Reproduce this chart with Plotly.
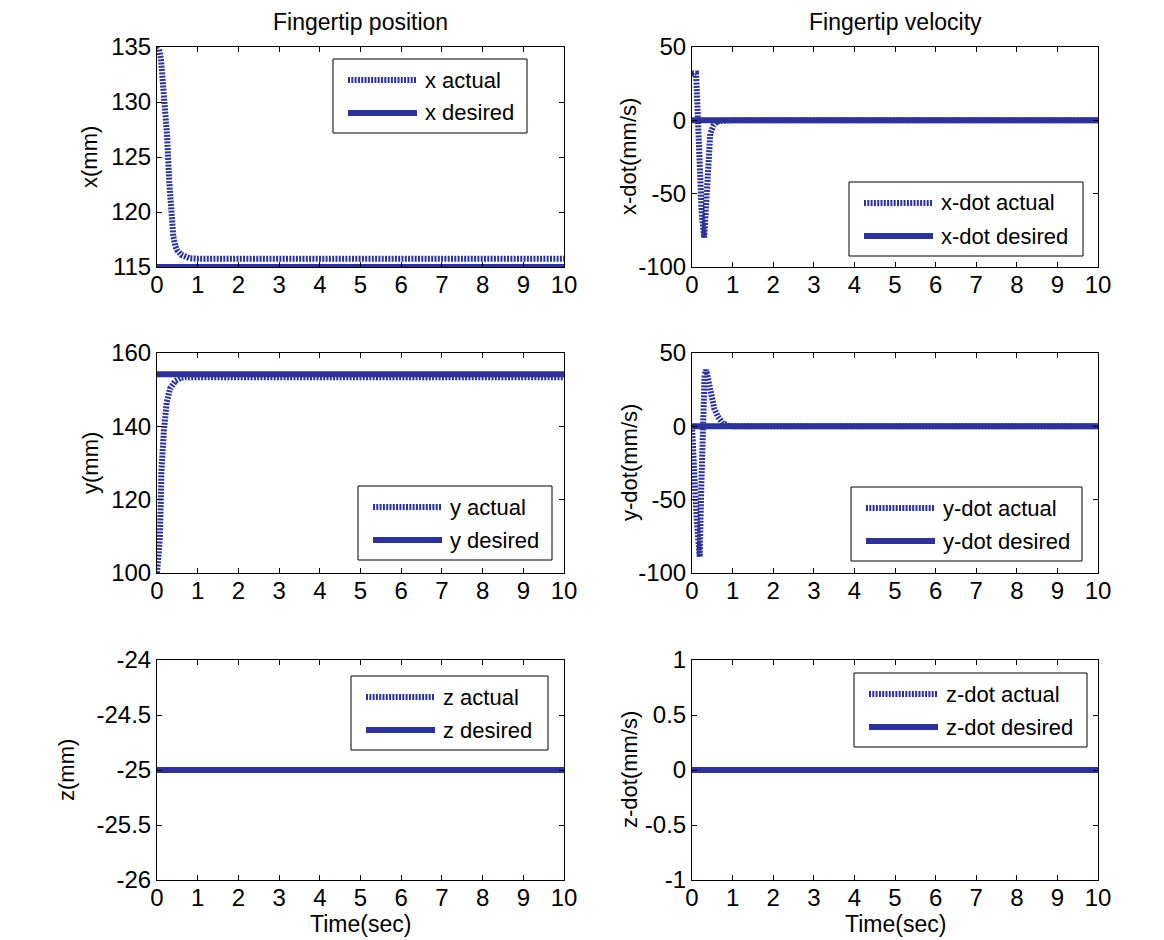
import plotly.graph_objects as go

# ---------------- data ----------------
t_x = [0, 0.05, 0.1, 0.15, 0.2, 0.25, 0.3, 0.35, 0.4, 0.45, 0.5, 0.6, 0.7, 0.8, 1.0, 10.0]
x_actual = [135.0, 134.8, 133.8, 131.7, 129.6, 126.8, 122.8, 119.6, 117.8, 116.9, 116.5, 116.1, 115.9, 115.8, 115.75, 115.75]
t_des = [0, 10]
x_desired = [115.0, 115.0]

t_xd = [0, 0.05, 0.1, 0.13, 0.17, 0.2, 0.24, 0.3, 0.35, 0.39, 0.45, 0.53, 0.61, 0.7, 0.8, 1.0, 10.0]
xdot_actual = [32, 32, 32, 12, -29, -48, -64, -80, -55, -30, -9, -3.5, -1, -0.4, 0, 0, 0]
xdot_desired = [0, 0]

t_y = [0, 0.03, 0.07, 0.09, 0.11, 0.17, 0.24, 0.32, 0.45, 0.58, 0.7, 1.0, 10.0]
y_actual = [100, 103, 109.5, 118, 128, 139, 146.6, 150.3, 152.4, 153.2, 153.4, 153.4, 153.4]
y_desired = [154.2, 154.2]

t_yd = [0, 0.05, 0.08, 0.12, 0.17, 0.19, 0.23, 0.27, 0.31, 0.35, 0.39, 0.45, 0.475, 0.55, 0.64, 0.76, 0.9, 1.0, 10.0]
ydot_actual = [0, -20, -45, -65, -85, -89, -40, 10, 35, 38.4, 33, 26, 20, 12, 6.6, 2, 0.4, 0, 0]
ydot_desired = [0, 0]

t_z = [0, 10]
z_actual = [-25, -25]
z_desired = [-25, -25]
zdot_actual = [0, 0]
zdot_desired = [0, 0]

x_ticks = [0, 1, 2, 3, 4, 5, 6, 7, 8, 9, 10]
x_ticklabels = ["0", "1", "2", "3", "4", "5", "6", "7", "8", "9", "10"]
yticks = {
    1: ([115, 120, 125, 130, 135], ["115", "120", "125", "130", "135"]),
    2: ([-100, -50, 0, 50], ["-100", "-50", "0", "50"]),
    3: ([100, 120, 140, 160], ["100", "120", "140", "160"]),
    4: ([-100, -50, 0, 50], ["-100", "-50", "0", "50"]),
    5: ([-26, -25.5, -25, -24.5, -24], ["-26", "-25.5", "-25", "-24.5", "-24"]),
    6: ([-1, -0.5, 0, 0.5, 1], ["-1", "-0.5", "0", "0.5", "1"]),
}
yranges = {1: [115, 135], 2: [-100, 50], 3: [100, 160], 4: [-100, 50], 5: [-26, -24], 6: [-1, 1]}
ytitles = {1: "x(mm)", 2: "x-dot(mm/s)", 3: "y(mm)", 4: "y-dot(mm/s)", 5: "z(mm)", 6: "z-dot(mm/s)"}
col_titles = ["Fingertip position", "Fingertip velocity"]
x_title = "Time(sec)"

panels = [
    (1, t_x, x_actual, x_desired, "x actual", "x desired"),
    (2, t_xd, xdot_actual, xdot_desired, "x-dot actual", "x-dot desired"),
    (3, t_y, y_actual, y_desired, "y actual", "y desired"),
    (4, t_yd, ydot_actual, ydot_desired, "y-dot actual", "y-dot desired"),
    (5, t_z, z_actual, z_desired, "z actual", "z desired"),
    (6, t_z, zdot_actual, zdot_desired, "z-dot actual", "z-dot desired"),
]

# ---------------- style / layout ----------------
W, H = 1164, 940
BLUE = "#2c3296"
FONT = "Liberation Sans, Arial, sans-serif"
DOT = "2px,1.3px"

col_px = {0: (157, 564), 1: (692, 1098)}
row_px = {0: (47, 267), 1: (353, 573), 2: (660, 880)}
# legend boxes: left, top, right (px)
legend_box = {1: (333, 59, 527), 2: (849, 182, 1083), 3: (358, 486, 552),
              4: (851, 487, 1082), 5: (351, 676, 548), 6: (854, 673, 1087)}
ylabel_x = {1: 90, 2: 629, 3: 90, 4: 629, 5: 66, 6: 629}


def px(x):
    return x / W


def py(y):
    return 1 - y / H


fig = go.Figure()
layout = dict(
    width=W, height=H, margin=dict(l=0, r=0, t=0, b=0, autoexpand=False),
    paper_bgcolor="white", plot_bgcolor="white",
    font=dict(family=FONT, size=22, color="black"),
    showlegend=False,
)
shapes = []
annotations = []

for idx, t, act, des, lab_a, lab_d in panels:
    r = (idx - 1) // 2
    c = (idx - 1) % 2
    xa = "x" if idx == 1 else f"x{idx}"
    ya = "y" if idx == 1 else f"y{idx}"
    fig.add_trace(go.Scatter(x=t, y=act, mode="lines", name=lab_a, xaxis=xa, yaxis=ya,
                             line=dict(color=BLUE, width=6, dash=DOT)))
    fig.add_trace(go.Scatter(x=t_des, y=des, mode="lines", name=lab_d, xaxis=xa, yaxis=ya,
                             line=dict(color=BLUE, width=6)))
    x0, x1 = col_px[c]
    y0, y1 = row_px[r]
    xkey = "xaxis" if idx == 1 else f"xaxis{idx}"
    ykey = "yaxis" if idx == 1 else f"yaxis{idx}"
    layout[xkey] = dict(
        domain=[px(x0), px(x1)], anchor=ya, range=[0, 10], automargin=False,
        tickvals=x_ticks, ticktext=x_ticklabels,
        ticks="inside", ticklen=5, tickcolor="black", tickwidth=1,
        showline=True, linecolor="black", linewidth=1, mirror="ticks",
        showgrid=False, zeroline=False, tickfont=dict(size=24), ticklabelstandoff=-4,
    )
    tv, tt = yticks[idx]
    layout[ykey] = dict(
        domain=[py(y1), py(y0)], anchor=xa, range=yranges[idx], automargin=False,
        tickvals=tv, ticktext=tt,
        ticks="inside", ticklen=5, tickcolor="black", tickwidth=1,
        showline=True, linecolor="black", linewidth=1, mirror="ticks",
        showgrid=False, zeroline=False, tickfont=dict(size=24),
    )
    # y-axis title
    annotations.append(dict(text=ytitles[idx], xref="paper", yref="paper",
                            x=px(ylabel_x[idx]), y=py((y0 + y1) / 2), textangle=-90,
                            showarrow=False, font=dict(size=22), xanchor="center", yanchor="middle"))
    if r == 2:
        annotations.append(dict(text=x_title, xref="paper", yref="paper",
                                x=px((x0 + x1) / 2), y=0, yshift=1,
                                showarrow=False, font=dict(size=23), xanchor="center", yanchor="bottom"))
    # legend box
    L, T, R = legend_box[idx]
    B = T + 74
    shapes.append(dict(type="rect", xref="paper", yref="paper", x0=px(L), x1=px(R), y0=py(B), y1=py(T),
                       line=dict(color="black", width=1), fillcolor="white", layer="above"))
    for k, (lab, dash) in enumerate([(lab_a, DOT), (lab_d, "solid")]):
        yy = T + 21 + 33 * k
        shapes.append(dict(type="line", xref="paper", yref="paper", x0=px(L + 15), x1=px(L + 84),
                           y0=py(yy), y1=py(yy), line=dict(color=BLUE, width=6, dash=dash), layer="above"))
        annotations.append(dict(text=lab, xref="paper", yref="paper", x=px(L + 90), y=py(yy),
                                showarrow=False, font=dict(size=22), xanchor="left", yanchor="middle"))

for c, title in enumerate(col_titles):
    x0, x1 = col_px[c]
    annotations.append(dict(text=title, xref="paper", yref="paper", x=px((x0 + x1) / 2), y=py(22),
                            showarrow=False, font=dict(size=23), xanchor="center", yanchor="middle"))

layout["shapes"] = shapes
layout["annotations"] = annotations
fig.update_layout(**layout)
fig.write_html("out.html")
